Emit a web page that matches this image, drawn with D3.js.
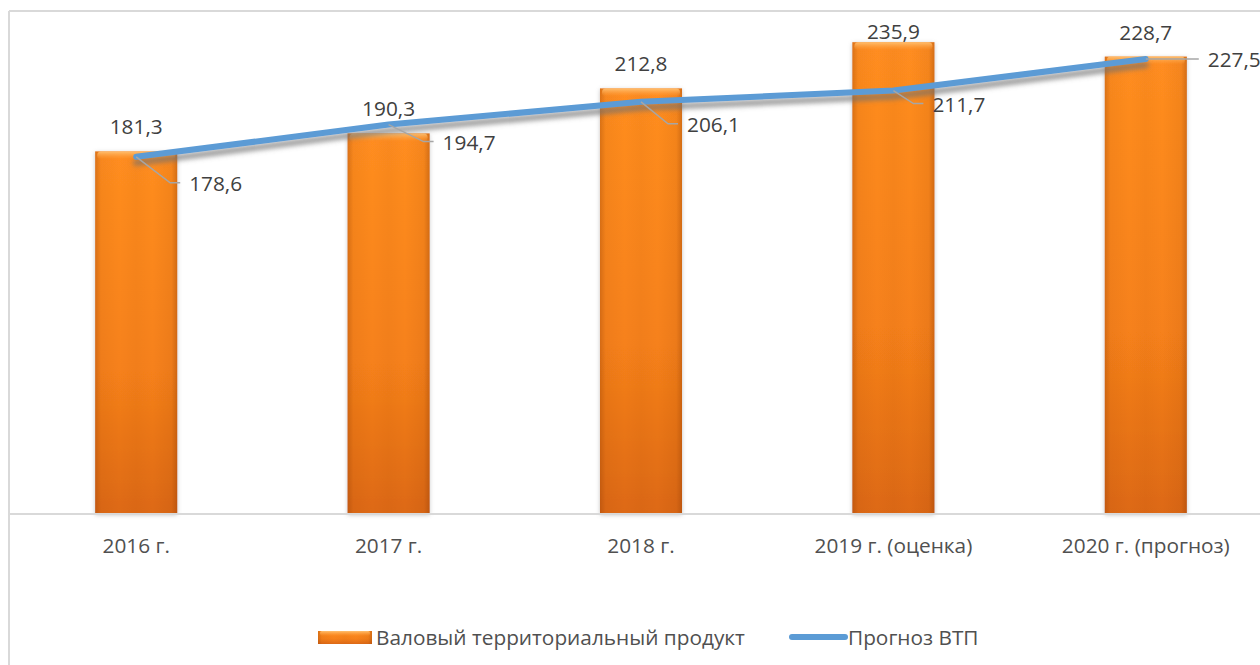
<!DOCTYPE html>
<html>
<head>
<meta charset="utf-8">
<title>ВТП</title>
<script src="https://d3js.org/d3.v7.min.js"></script>
<style>
body { margin: 0; background: #fff; }
svg text { font-family: "Open Sans", sans-serif; }
</style>
</head>
<body>
<svg id="chart" width="1260" height="665"></svg>
<script>
// categories and series
const categories = ["2016 г.", "2017 г.", "2018 г.", "2019 г. (оценка)", "2020 г. (прогноз)"];
const grpValues = [181.3, 190.3, 212.8, 235.9, 228.7];
const forecastValues = [178.6, 194.7, 206.1, 211.7, 227.5];
const seriesNames = ["Валовый территориальный продукт", "Прогноз ВТП"];

// label elbows for the forecast line (manual placement, like in the source)
const leaderElbows = [[34, 26], [35, 17], [27, 22], [20, 13], [43, 0]];

const fmt = v => d3.format(".1f")(v).replace(".", ",");
const fs = 20.8;

const svg = d3.select("#chart");
const baseY = 514, topY = 14;

const x = d3.scaleBand().domain(categories).range([10, 1272]).padding(0);
const y = d3.scaleLinear().domain([0, 250]).range([baseY, topY]);
const barW = x.bandwidth() * 0.325;
const cx = d => x(d) + x.bandwidth() / 2;

// defs: gradients & shadows
const defs = svg.append("defs");
const vg = defs.append("linearGradient").attr("id", "barV").attr("x1", 0).attr("y1", 0).attr("x2", 0).attr("y2", 1);
vg.append("stop").attr("offset", "0%").attr("stop-color", "#ff8d20");
vg.append("stop").attr("offset", "60%").attr("stop-color", "#f6811a");
vg.append("stop").attr("offset", "100%").attr("stop-color", "#dd6916");

const hg = defs.append("linearGradient").attr("id", "barH").attr("x1", 0).attr("y1", 0).attr("x2", 1).attr("y2", 0);
[[0, 0.28], [0.07, 0.06], [0.3, 0], [0.5, 0.04], [0.7, 0], [0.93, 0.08], [1, 0.32]].forEach(s => {
  hg.append("stop").attr("offset", s[0]).attr("stop-color", "#7a2e00").attr("stop-opacity", s[1]);
});

const tg = defs.append("linearGradient").attr("id", "barTop").attr("x1", 0).attr("y1", 0).attr("x2", 0).attr("y2", 1);
tg.append("stop").attr("offset", "0%").attr("stop-color", "#ffc070").attr("stop-opacity", 1);
tg.append("stop").attr("offset", "100%").attr("stop-color", "#ffa040").attr("stop-opacity", 0);

const bs = defs.append("filter").attr("id", "barShadow").attr("x", "-20%").attr("y", "-20%").attr("width", "140%").attr("height", "140%");
bs.append("feDropShadow").attr("dx", 0).attr("dy", 1).attr("stdDeviation", 2.2)
  .attr("flood-color", "#808080").attr("flood-opacity", 0.45);

const ls = defs.append("filter").attr("id", "lineShadow").attr("x", "-5%").attr("y", "-50%").attr("width", "110%").attr("height", "200%");
ls.append("feDropShadow").attr("dx", 0).attr("dy", 6).attr("stdDeviation", 2.5)
  .attr("flood-color", "#6f6f6f").attr("flood-opacity", 0.7);

// chart frame (left and top edges visible)
svg.append("line").attr("x1", 9).attr("x2", 9).attr("y1", 11).attr("y2", 665)
  .attr("stroke", "#d9d9d9").attr("stroke-width", 2);
svg.append("line").attr("x1", 9).attr("x2", 1260).attr("y1", 11).attr("y2", 11)
  .attr("stroke", "#d9d9d9").attr("stroke-width", 2);

// bars
const bars = svg.append("g").selectAll("g").data(grpValues).join("g")
  .attr("transform", (d, i) => `translate(${cx(categories[i]) - barW / 2},${y(d)})`);
bars.append("rect").attr("width", barW).attr("height", d => baseY - y(d))
  .attr("fill", "url(#barV)").attr("filter", "url(#barShadow)");
bars.append("rect").attr("width", barW).attr("height", d => baseY - y(d))
  .attr("fill", "url(#barH)");
bars.append("rect").attr("x", 2).attr("width", barW - 4).attr("height", 8).attr("rx", 4)
  .attr("fill", "url(#barTop)");

// category axis
const xAxis = svg.append("g").attr("transform", `translate(0,${baseY})`)
  .call(d3.axisBottom(x).tickSize(0).tickPadding(0));
xAxis.select(".domain").remove();
xAxis.append("line").attr("x1", 10).attr("x2", 1260).attr("y1", 0).attr("y2", 0)
  .attr("stroke", "#d9d9d9").attr("stroke-width", 2);
xAxis.selectAll(".tick text").attr("y", 39).attr("dy", 0)
  .attr("font-family", "Open Sans").attr("font-size", fs).attr("fill", "#505050");

// bar value labels
svg.append("g").selectAll("text").data(grpValues).join("text")
  .attr("x", (d, i) => cx(categories[i]))
  .attr("y", d => Math.max(y(d) - 17, 39))
  .attr("text-anchor", "middle").attr("font-size", fs).attr("fill", "#404040")
  .text(fmt);

// forecast line
const line = d3.line().x((d, i) => cx(categories[i])).y(d => y(d));
svg.append("path").datum(forecastValues).attr("d", line)
  .attr("fill", "none").attr("stroke", "#5b9bd5").attr("stroke-width", 6)
  .attr("stroke-linecap", "round").attr("stroke-linejoin", "round")
  .attr("filter", "url(#lineShadow)");

// forecast labels with leader lines
const fl = svg.append("g").selectAll("g").data(forecastValues).join("g")
  .attr("transform", (d, i) => `translate(${cx(categories[i])},${y(d)})`);
fl.append("polyline")
  .attr("points", (d, i) => {
    const e = leaderElbows[i];
    return `0,0 ${e[0]},${e[1]} ${e[0] + 10},${e[1]}`;
  })
  .attr("fill", "none").attr("stroke", "#a6a6a6").attr("stroke-width", 1.5);
fl.append("text")
  .attr("x", (d, i) => leaderElbows[i][0] + 19)
  .attr("y", (d, i) => leaderElbows[i][1] + 1)
  .attr("dy", "0.35em").attr("font-size", fs).attr("fill", "#404040")
  .text(fmt);

// legend
const lg = svg.append("g");
lg.append("rect").attr("x", 318).attr("y", 631).attr("width", 54).attr("height", 13)
  .attr("fill", "url(#barV)");
lg.append("rect").attr("x", 318).attr("y", 631).attr("width", 54).attr("height", 13)
  .attr("fill", "url(#barH)");
lg.append("rect").attr("x", 320).attr("y", 631).attr("width", 50).attr("height", 5).attr("rx", 2)
  .attr("fill", "url(#barTop)");
lg.append("text").attr("x", 376).attr("y", 638).attr("dy", "0.35em")
  .attr("font-size", fs).attr("fill", "#505050").text(seriesNames[0]);
lg.append("line").attr("x1", 792).attr("x2", 845).attr("y1", 637).attr("y2", 637)
  .attr("stroke", "#5b9bd5").attr("stroke-width", 6).attr("stroke-linecap", "round");
lg.append("text").attr("x", 848).attr("y", 638).attr("dy", "0.35em")
  .attr("font-size", fs).attr("fill", "#505050").text(seriesNames[1]);
</script>
</body>
</html>
